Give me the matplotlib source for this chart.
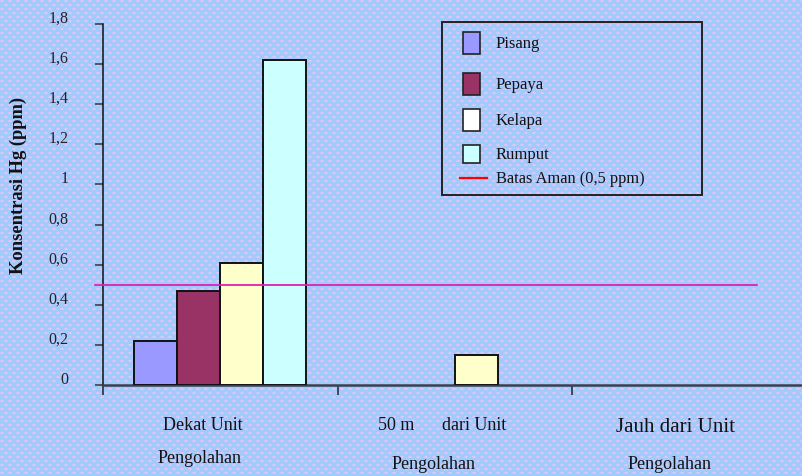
import numpy as np
import matplotlib
matplotlib.use("Agg")
import matplotlib.pyplot as plt
from matplotlib.patches import Rectangle
from matplotlib.lines import Line2D
from matplotlib.transforms import ScaledTranslation

# ---- data ----
locations = ["Dekat Unit\nPengolahan", "50 m dari Unit\nPengolahan", "Jauh dari Unit\nPengolahan"]
series_names = ["Pisang", "Pepaya", "Kelapa", "Rumput"]
pisang = [0.22, 0.0, 0.0]
pepaya = [0.47, 0.0, 0.0]
kelapa = [0.61, 0.15, 0.0]
rumput = [1.62, 0.0, 0.0]
safe_limit = 0.5
y_ticks = [0, 0.2, 0.4, 0.6, 0.8, 1.0, 1.2, 1.4, 1.6, 1.8]
y_tick_labels = ["0", "0,2", "0,4", "0,6", "0,8", "1", "1,2", "1,4", "1,6", "1,8"]

bar_colors = ["#9999ff", "#993366", "#ffffcc", "#ccffff"]
legend_colors = ["#9999ff", "#993366", "#ffffff", "#ccffff"]

W, H = 802, 477
fig = plt.figure(figsize=(W / 100, H / 100), dpi=100)
fig.patch.set_facecolor("#a2cbfc")

# dotted blue background texture
bg = np.empty((H, W, 3))
bg[:] = np.array([0xa2, 0xcb, 0xfc]) / 255
dot = np.array([0xe8, 0xc4, 0xf6]) / 255
halo = np.array([0xc2, 0xc6, 0xfa]) / 255
for r, yy in enumerate(range(1, H, 4)):
    shift = 0 if r % 2 == 0 else 4
    for xx in range(1 + shift, W, 8):
        bg[yy:yy + 2, max(xx - 1, 0):xx + 3] = halo
        bg[yy:yy + 2, xx:xx + 2] = dot
fig.figimage(bg, xo=0, yo=0, origin="upper", zorder=-10)

plt.rcParams["font.family"] = ["Liberation Serif", "DejaVu Serif"]

left_px, right_px, top_px, bottom_px = 103, 802, 25, 386
ax = fig.add_axes([left_px / W, (H - bottom_px) / H,
                   (right_px - left_px) / W, (bottom_px - top_px) / H])
ax.set_facecolor("none")

x = np.arange(len(locations))
width = 43 / 234.5
all_series = [pisang, pepaya, kelapa, rumput]
for i, (vals, col) in enumerate(zip(all_series, bar_colors)):
    offs = (i - 1.5) * width
    for xi, v in zip(x, vals):
        if v > 0:
            ax.bar(xi + offs, v, width=width, color=col, edgecolor="#111111",
                   linewidth=1.4, zorder=3)

ax.set_xlim(-0.5, -0.5 + (right_px - left_px) / 234.5)
ax.set_ylim(0, 1.8)

# safe limit line
xmin = (95 - left_px) / (right_px - left_px)
xmax = (757 - left_px) / (right_px - left_px)
ax.axhline(safe_limit, xmin=xmin, xmax=xmax, color="#e020b0", lw=1.3,
           clip_on=False, zorder=4)

for s in ["top", "right"]:
    ax.spines[s].set_visible(False)
ax.spines["left"].set_color("#111111")
ax.spines["left"].set_linewidth(1.1)
ax.spines["bottom"].set_color("#3a4050")
ax.spines["bottom"].set_linewidth(1.8)

ax.set_yticks(y_ticks)
ax.set_yticklabels(y_tick_labels, fontsize=11.5, color="#222222")
ax.tick_params(axis="y", direction="out", length=6, width=1.1, pad=19,
               color="#333333")
for lab in ax.get_yticklabels():
    lab.set_transform(lab.get_transform() + ScaledTranslation(0, 6 / 72, fig.dpi_scale_trans))

ax.set_xticks([-0.5, 0.5, 1.5])
ax.set_xticklabels([])
ax.tick_params(axis="x", direction="out", length=7, width=1.1, color="#222222")

# category labels
def ftext(px, py, s, size=13, **kw):
    fig.text(px / W, (H - py) / H, s, fontsize=size, color="#111111",
             ha="center", va="center", **kw)

ftext(203, 426, "Dekat Unit")
ftext(200, 459, "Pengolahan")
ftext(396, 426, "50 m")
ftext(474, 426, "dari Unit")
ftext(434, 465, "Pengolahan")
ftext(675, 428, "Jauh dari Unit", size=15)
ftext(670, 465, "Pengolahan")

fig.text(18 / W, (H - 185) / H, "Konsentrasi Hg (ppm)", rotation=90,
         fontsize=13.3, fontweight="bold", ha="center", va="center", color="#111111")

# legend box
fig.patches.append(Rectangle((442 / W, (H - 196) / H), (702 - 442) / W, (196 - 23) / H,
                             transform=fig.transFigure, facecolor="none",
                             edgecolor="#222222", linewidth=1.4))
legend_rows = [(33, 55, 44), (74, 96, 85), (110, 132, 121), (146, 164, 155)]
for name, col, (y0, y1, yt) in zip(series_names, legend_colors, legend_rows):
    fig.patches.append(Rectangle((463 / W, (H - y1) / H), 17 / W, (y1 - y0) / H,
                                 transform=fig.transFigure, facecolor=col,
                                 edgecolor="#222222", linewidth=1.2))
    fig.text(496 / W, (H - yt) / H, name, fontsize=12, ha="left", va="center",
             color="#111111")
fig.lines.append(Line2D([460 / W, 487 / W], [(H - 179) / H] * 2,
                        transform=fig.transFigure, color="#ff0000", lw=1.6))
fig.text(496 / W, (H - 179) / H, "Batas Aman (0,5 ppm)", fontsize=11.8,
         ha="left", va="center", color="#111111")

fig.savefig("out.png", dpi=100, facecolor=fig.get_facecolor())
